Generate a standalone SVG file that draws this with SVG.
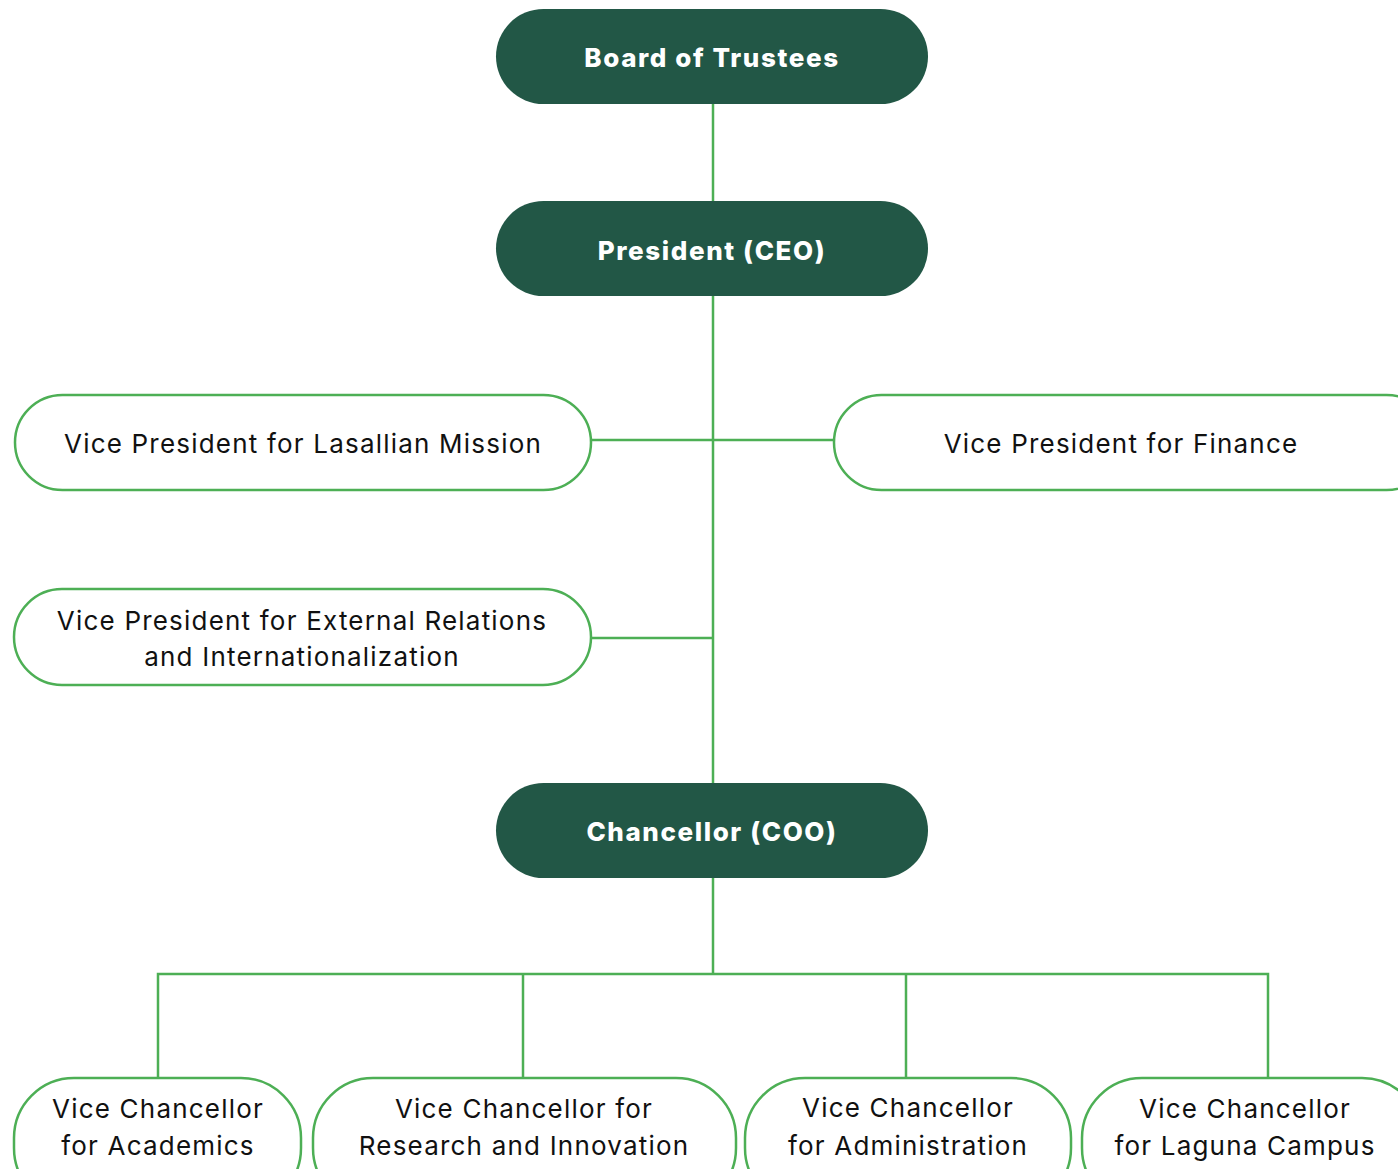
<svg xmlns="http://www.w3.org/2000/svg" width="1398" height="1169" viewBox="0 0 1398 1169">
<style>
.dark{fill:#225746;}
.light{fill:#ffffff;stroke:#4daf55;stroke-width:2.5;}
.conn{stroke:#4daf55;stroke-width:2.5;fill:none;}
.tb{font-family:Inter,"Liberation Sans",sans-serif;font-weight:800;font-size:26px;letter-spacing:1.6px;fill:#ffffff;text-anchor:middle;dominant-baseline:central;}
.tr{font-family:Inter,"Liberation Sans",sans-serif;font-weight:400;font-size:26px;letter-spacing:1.2px;fill:#111111;text-anchor:middle;dominant-baseline:central;}
</style>
<rect width="1398" height="1169" fill="#ffffff"/>
<g id="connectors">
<line class="conn" x1="713" y1="104" x2="713" y2="201"/>
<line class="conn" x1="713" y1="296" x2="713" y2="783"/>
<line class="conn" x1="591" y1="440" x2="834" y2="440"/>
<line class="conn" x1="591" y1="638" x2="713" y2="638"/>
<line class="conn" x1="713" y1="878" x2="713" y2="974"/>
<polyline class="conn" points="158,1078 158,974 1268,974 1268,1078"/>
<line class="conn" x1="523" y1="974" x2="523" y2="1078"/>
<line class="conn" x1="906" y1="974" x2="906" y2="1078"/>
</g>
<g id="board">
<rect class="dark" x="496" y="9" width="432" height="95" rx="47.5"/>
<text class="tb" x="712" y="57">Board of Trustees</text>
</g>
<g id="president">
<rect class="dark" x="496" y="201" width="432" height="95" rx="47.5"/>
<text class="tb" x="712" y="250">President (CEO)</text>
</g>
<g id="vp-lasallian">
<rect class="light" x="15" y="395" width="576" height="95" rx="47.5"/>
<text class="tr" x="303" y="443">Vice President for Lasallian Mission</text>
</g>
<g id="vp-finance">
<rect class="light" x="834" y="395" width="600" height="95" rx="47.5"/>
<text class="tr" x="1121" y="443">Vice President for Finance</text>
</g>
<g id="vp-external">
<rect class="light" x="14" y="589" width="577" height="96" rx="48"/>
<text class="tr" x="302" y="620">Vice President for External Relations</text>
<text class="tr" x="302" y="656">and Internationalization</text>
</g>
<g id="chancellor">
<rect class="dark" x="496" y="783" width="432" height="95" rx="47.5"/>
<text class="tb" x="712" y="831">Chancellor (COO)</text>
</g>
<g id="vc-academics">
<rect class="light" x="14" y="1078" width="287" height="130" rx="60"/>
<text class="tr" x="158" y="1108">Vice Chancellor</text>
<text class="tr" x="158" y="1145">for Academics</text>
</g>
<g id="vc-research">
<rect class="light" x="313" y="1078" width="423" height="130" rx="60"/>
<text class="tr" x="524" y="1108">Vice Chancellor for</text>
<text class="tr" x="524" y="1145">Research and Innovation</text>
</g>
<g id="vc-administration">
<rect class="light" x="745" y="1078" width="326" height="130" rx="60"/>
<text class="tr" x="908" y="1107">Vice Chancellor</text>
<text class="tr" x="908" y="1145">for Administration</text>
</g>
<g id="vc-laguna">
<rect class="light" x="1082" y="1078" width="340" height="130" rx="60"/>
<text class="tr" x="1245" y="1108">Vice Chancellor</text>
<text class="tr" x="1245" y="1145">for Laguna Campus</text>
</g>
</svg>
